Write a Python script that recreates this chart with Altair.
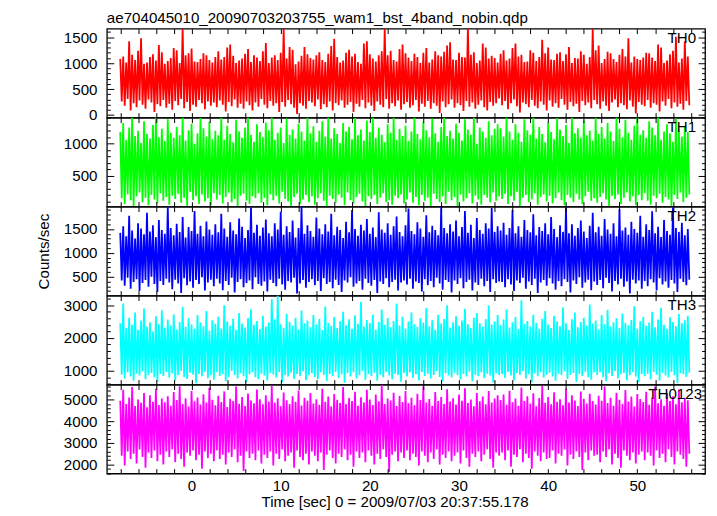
import altair as alt
import pandas as pd

TITLE = "ae704045010_20090703203755_wam1_bst_4band_nobin.qdp"
X_TITLE = "Time [sec] 0 = 2009/07/03 20:37:55.178"
Y_TITLE = "Counts/sec"

bands = ["TH0", "TH1", "TH2", "TH3", "TH0123"]
colors = ["#ff0000", "#00ff00", "#0000ff", "#00ffff", "#ff00ff"]
y_domains = [[-50, 1665], [20, 1405], [105, 1970], [575, 3295], [1580, 5695]]
y_major = [500, 500, 500, 1000, 1000]
y_minor = [100, 100, 100, 200, 200]
x_domain = [-9.5, 57.6]
x_label_values = [0, 10, 20, 30, 40, 50]

# time bins (s): each bin holds the peak and the trough of the light curve
T_START = -8.0
T_BIN = 1 / 3

th0_hi = [1080, 1130, 1010, 1420, 1160, 1060, 1240, 1480, 990, 1010, 1120, 1170, 1050, 1350, 1210, 990,
          1040, 1100, 1290, 1250, 1000, 1680, 1150, 1190, 1280, 1030, 1020, 1080, 1190, 1150, 1060, 1010,
          1120, 1230, 1070, 1120, 1300, 1360, 1140, 1000, 1050, 1090, 1180, 1270, 1020, 1150, 1110, 1040,
          1230, 1390, 1000, 1110, 1150, 1060, 1200, 1660, 1090, 1310, 1260, 980, 1030, 1140, 1310, 1170,
          1100, 1070, 1150, 1210, 1060, 1020, 1180, 1330, 1470, 1120, 1010, 1050, 1200, 1260, 1130, 1180,
          1020, 990, 1380, 1420, 1170, 1090, 1030, 1150, 1230, 1670, 1150, 1240, 1060, 1030, 1270, 1360,
          1190, 1110, 1040, 1180, 1120, 1000, 1200, 1290, 1010, 1070, 1230, 1150, 1130, 1220, 1340, 1400,
          1070, 1060, 1200, 1120, 1110, 1690, 1160, 1210, 1000, 1050, 1380, 1300, 1090, 1140, 1100, 1010,
          1180, 1250, 1050, 1090, 1290, 1380, 1130, 1160, 1020, 1030, 1250, 1200, 1040, 1120, 1450, 1190,
          1300, 1070, 1060, 1180, 1210, 1040, 1170, 1310, 1000, 1100, 1090, 1230, 1160, 990, 1120, 1660,
          1250, 1340, 1000, 1080, 1220, 1190, 1080, 1020, 1160, 1270, 1130, 1480, 1010, 1130, 1080, 1060,
          1110, 1200, 1190, 1110, 1040, 1360, 1300, 1000, 1050, 1170, 1240, 1510, 1010, 1090, 1420, 1130]
th0_lo = [260, 180, 310, 90, 230, 150, 280, 200, 120, 300, 240, 60, 210, 170, 290, 140,
          220, 100, 270, 190, 310, 130, 250, 80, 200, 160, 290, 230, 110, 260, 180, 240,
          150, 280, 200, 70, 250, 170, 300, 140, 220, 120, 260, 190, 90, 240, 160, 310,
          200, 130, 270, 180, 230, 60, 250, 160, 290, 210, 140, 20, 230, 180, 120, 270,
          240, 170, 300, 110, 210, 150, 260, 90, 230, 190, 280, 140, 200, 250, 60, 220,
          160, 290, 130, 240, 180, 80, 260, 200, 150, 310, 120, 230, 170, 280, 100, 210,
          250, 140, 190, 290, 70, 220, 160, 270, 120, 230, 180, 40, 260, 150, 210, 300,
          140, 230, 190, 80, 270, 160, 240, 120, 200, 280, 150, 90, 250, 180, 230, 320,
          190, 270, 110, 230, 300, 170, 50, 240, 210, 150, 290, 180, 130, 260, 200, 90,
          280, 160, 230, 140, 310, 200, 100, 250, 170, 220, 60, 270, 190, 240, 130, 290,
          210, 120, 260, 180, 80, 240, 300, 150, 230, 190, 110, 280, 160, 30, 250, 200,
          170, 290, 140, 230, 200, 70, 260, 180, 310, 130, 240, 160, 220, 100, 270, 190]

th1_hi = [1180, 1320, 1060, 1250, 1410, 1120, 1200, 1010, 1350, 1150, 1080, 1290, 1420, 1100, 1230, 1040,
          1380, 1170, 1090, 1260, 1130, 1420, 1050, 1210, 1310, 1000, 1160, 1400, 1240, 1110, 1340, 1070,
          1200, 1130, 1420, 1060, 1280, 1150, 1020, 1370, 1190, 1090, 1250, 1410, 1140, 1030, 1300, 1180,
          1100, 1330, 1210, 1420, 1060, 1170, 1250, 1010, 1390, 1140, 1220, 1080, 1310, 1190, 1050, 1420,
          1160, 1270, 1030, 1200, 1350, 1110, 1420, 1080, 1240, 1150, 1010, 1320, 1190, 1260, 1070, 1400,
          1130, 1220, 1050, 1360, 1180, 1420, 1090, 1250, 1140, 1020, 1300, 1170, 1410, 1060, 1230, 1120,
          1280, 1040, 1190, 1420, 1150, 1070, 1340, 1210, 1100, 1390, 1160, 1030, 1260, 1420, 1120, 1200,
          1080, 1310, 1170, 1050, 1380, 1220, 1140, 1420, 1000, 1250, 1190, 1090, 1350, 1130, 1230, 1300,
          1240, 1110, 1420, 1190, 1060, 1300, 1170, 1030, 1380, 1210, 1140, 1420, 1080, 1260, 1150, 1020,
          1330, 1180, 1070, 1400, 1220, 1120, 1290, 1010, 1420, 1160, 1240, 1090, 1360, 1130, 1200, 1050,
          1410, 1150, 1260, 1080, 1320, 1190, 1040, 1420, 1230, 1100, 1370, 1170, 1060, 1280, 1420, 1140,
          1210, 1090, 1350, 1250, 1130, 1420, 1060, 1190, 1300, 1160, 1030, 1390, 1220, 1110, 1270, 1180]
th1_lo = [150, 60, 210, 120, 30, 180, 240, 90, 160, 40, 200, 130, 70, 230, 110, 170,
          50, 190, 140, 220, 80, 160, 30, 250, 120, 180, 60, 210, 100, 150, 40, 230,
          130, 200, 70, 170, 240, 90, 140, 30, 190, 220, 110, 60, 180, 150, 230, 80,
          160, 40, 210, 120, 190, 70, 250, 140, 100, 30, 170, 220, 60, 130, 200, 90,
          180, 50, 150, 230, 110, 20, 190, 140, 80, 210, 160, 40, 240, 120, 70, 170,
          220, 100, 30, 180, 140, 200, 60, 160, 230, 90, 120, 50, 190, 150, 210, 70,
          130, 240, 80, 170, 40, 200, 110, 160, 30, 220, 140, 90, 180, 60, 250, 120,
          170, 30, 210, 100, 150, 230, 70, 190, 130, 50, 200, 160, 90, 240, 110, 180,
          140, 220, 60, 180, 110, 250, 30, 160, 200, 90, 130, 230, 50, 170, 210, 100,
          190, 70, 150, 240, 120, 40, 200, 160, 90, 220, 130, 60, 180, 250, 110, 150,
          80, 170, 230, 130, 30, 190, 140, 210, 60, 160, 240, 100, 180, 40, 200, 120,
          230, 110, 50, 190, 150, 220, 80, 170, 130, 30, 200, 140, 240, 90, 160, 210]

th2_hi = [1420, 1560, 1350, 1780, 1470, 1300, 1620, 1510, 1390, 1840, 1450, 1580, 1330, 1690, 1480, 1400,
          1960, 1520, 1370, 1610, 1440, 1750, 1320, 1540, 1460, 1880, 1400, 1570, 1350, 1660, 1490, 1380,
          1600, 1430, 1820, 1510, 1340, 1640, 1470, 1390, 1720, 1550, 1310, 1480, 1950, 1420, 1590, 1360,
          1530, 1700, 1410, 1350, 1620, 1490, 1860, 1380, 1560, 1440, 1680, 1320, 1520, 1970, 1400, 1580,
          1460, 1340, 1740, 1510, 1390, 1600, 1450, 1820, 1370, 1550, 1480, 1310, 1650, 1430, 1900, 1500,
          1360, 1590, 1470, 1710, 1400, 1530, 1330, 1850, 1490, 1420, 1620, 1380, 1560, 1760, 1440, 1350,
          1580, 1930, 1460, 1390, 1640, 1510, 1340, 1790, 1430, 1570, 1480, 1370, 1960, 1520, 1410, 1600,
          1450, 1680, 1350, 1540, 1880, 1420, 1590, 1310, 1730, 1480, 1400, 1620, 1510, 1940, 1440, 1560,
          1470, 1630, 1380, 1520, 1900, 1410, 1560, 1340, 1690, 1480, 1430, 1810, 1370, 1540, 1460, 1620,
          1390, 1750, 1500, 1330, 1580, 1440, 1960, 1410, 1600, 1360, 1520, 1680, 1450, 1310, 1570, 1840,
          1430, 1550, 1360, 1710, 1490, 1400, 1620, 1350, 1920, 1470, 1530, 1380, 1650, 1500, 1420, 1780,
          1340, 1600, 1480, 1870, 1410, 1550, 1330, 1690, 1460, 1380, 1950, 1520, 1440, 1630, 1370, 1500]
th2_lo = [420, 310, 480, 250, 390, 450, 200, 370, 430, 290, 500, 350, 180, 410, 330, 460,
          380, 240, 440, 360, 160, 470, 320, 400, 270, 430, 350, 490, 210, 380, 440, 300,
          460, 360, 220, 410, 330, 480, 170, 390, 450, 280, 370, 420, 240, 490, 350, 310,
          400, 190, 440, 370, 300, 460, 340, 230, 410, 380, 480, 150, 360, 430, 270, 390,
          450, 320, 410, 200, 470, 350, 390, 260, 440, 330, 180, 420, 380, 490, 290, 360,
          410, 230, 460, 370, 310, 430, 160, 400, 350, 470, 280, 390, 440, 210, 380, 420,
          340, 460, 250, 400, 370, 190, 450, 320, 410, 280, 480, 360, 230, 430, 390, 170,
          420, 350, 470, 260, 390, 440, 210, 380, 330, 460, 300, 410, 180, 450, 370, 400,
          390, 280, 450, 340, 200, 420, 370, 480, 250, 400, 330, 460, 160, 380, 430, 310,
          470, 360, 230, 410, 300, 450, 390, 170, 420, 350, 490, 270, 380, 440, 220, 400,
          330, 430, 260, 480, 370, 190, 410, 340, 460, 290, 400, 150, 440, 360, 420, 250,
          410, 300, 450, 380, 210, 470, 340, 400, 270, 430, 360, 180, 460, 390, 320, 440]

th3_hi = [2450, 3050, 2300, 2620, 2400, 2780, 2250, 2530, 2900, 2350, 2480, 2200, 2660, 2420, 2850, 2310,
          2560, 2380, 2720, 2260, 2490, 2950, 2340, 2600, 2410, 2280, 2700, 2470, 2360, 2820, 2230, 2540,
          2430, 2650, 2290, 3000, 2500, 2370, 2590, 2250, 2760, 2440, 2320, 2610, 2880, 2400, 2520, 2270,
          2680, 2350, 2470, 3180, 2560, 3300, 2420, 2310, 2740, 2490, 2380, 2620, 2260, 2840, 2450, 2530,
          2330, 2700, 2410, 2580, 2240, 2960, 2460, 2370, 2640, 2300, 2510, 2800, 2390, 2570, 2280, 2690,
          2430, 3100, 2350, 2550, 2460, 2720, 2260, 2490, 2870, 2400, 2610, 2330, 2520, 3050, 2380, 2650,
          2290, 2500, 2780, 2420, 2340, 2600, 2470, 2920, 2360, 2540, 2250, 2710, 2440, 2580, 3000, 2310,
          2480, 2660, 2370, 2530, 2890, 2420, 2300, 2620, 2760, 2450, 2350, 2580, 2990, 2410, 2500, 2700,
          2390, 2560, 2870, 2320, 2480, 2640, 2270, 3150, 2430, 2520, 2350, 2710, 2460, 2280, 2590, 2820,
          2410, 2300, 2680, 2500, 2360, 2940, 2450, 2240, 2570, 2780, 2330, 2490, 2620, 2380, 3020, 2440,
          2530, 2260, 2700, 2420, 2860, 2350, 2480, 2600, 2310, 2750, 2460, 2390, 2550, 2970, 2290, 2510,
          2640, 2370, 2470, 2800, 2330, 2560, 2920, 2400, 2280, 2630, 2490, 2360, 2730, 2450, 2540, 2680]
th3_lo = [880, 760, 950, 820, 690, 910, 850, 980, 740, 870, 930, 800, 660, 900, 840, 960,
          790, 920, 700, 860, 990, 810, 750, 940, 880, 620, 900, 830, 970, 770, 860, 720,
          950, 840, 900, 680, 810, 990, 870, 760, 920, 830, 650, 890, 960, 800, 740, 910,
          850, 700, 930, 880, 790, 960, 640, 870, 820, 940, 750, 900, 830, 980, 710, 860,
          920, 810, 740, 950, 870, 680, 900, 840, 970, 780, 890, 630, 930, 820, 950, 760,
          860, 990, 720, 900, 830, 940, 690, 880, 800, 960, 850, 740, 910, 870, 660, 930,
          820, 950, 780, 890, 700, 960, 840, 910, 760, 870, 990, 810, 670, 920, 850, 790,
          940, 860, 730, 900, 820, 970, 680, 880, 830, 950, 770, 910, 850, 640, 920, 870,
          900, 780, 960, 850, 700, 930, 870, 990, 760, 890, 640, 920, 830, 950, 790, 880,
          940, 820, 690, 910, 860, 980, 750, 870, 930, 660, 900, 840, 970, 800, 720, 950,
          870, 950, 800, 680, 920, 840, 990, 770, 890, 930, 710, 860, 960, 820, 650, 900,
          830, 910, 740, 960, 880, 700, 940, 850, 790, 970, 860, 620, 920, 890, 810, 940]

th0123_hi = [4950, 5450, 4800, 5100, 5580, 4700, 5000, 4850, 5300, 4650, 5200, 4900, 5500, 4750, 5050, 4880,
             5150, 4720, 5350, 4980, 5620, 4800, 5060, 4680, 5400, 4920, 5100, 4770, 5250, 4860, 5550, 4990,
             4740, 5180, 4890, 5380, 4660, 5040, 4940, 5600, 4810, 5120, 4700, 5280, 4960, 4830, 5470, 5020,
             4780, 5200, 4910, 5650, 4850, 5060, 4690, 5330, 4970, 4800, 5150, 4900, 5420, 4730, 5080, 4950,
             5300, 4820, 5020, 4760, 5500, 4900, 5140, 4680, 5260, 4990, 4840, 5580, 4790, 5070, 4930, 5360,
             4710, 5110, 4870, 5450, 5000, 4750, 5230, 4920, 5680, 4800, 5050, 4960, 5320, 4700, 5170, 4890,
             5400, 4830, 5090, 4740, 5270, 4980, 5600, 4860, 5030, 4720, 5350, 4940, 5120, 4800, 5480, 4910,
             5060, 4770, 5230, 4950, 5520, 4840, 5000, 4690, 5310, 4920, 5140, 4780, 5400, 4870, 5050, 5200,
             4980, 5230, 4760, 5410, 4880, 5050, 4720, 5560, 4930, 5160, 4810, 5290, 4690, 5070, 5640, 4850,
             5120, 4790, 5340, 4900, 5010, 4740, 5500, 4870, 5200, 4960, 4700, 5380, 5040, 4820, 5270, 4930,
             4770, 5180, 4950, 5610, 4840, 5090, 4720, 5320, 4990, 4800, 5440, 4910, 5140, 4680, 5260, 5030,
             4890, 5360, 4760, 5100, 5590, 4830, 5020, 4710, 5300, 4940, 5160, 4790, 5470, 4880, 5080, 4970]
th0123_lo = [2400, 1950, 2600, 2250, 2500, 2050, 2700, 2350, 1850, 2550, 2300, 2650, 2150, 2450, 2000, 2600,
             2350, 2700, 2100, 2500, 2250, 1900, 2550, 2400, 2650, 2200, 2450, 1800, 2600, 2300, 2500, 2150,
             2650, 2250, 2450, 2000, 2550, 2350, 2700, 2100, 2400, 1700, 2600, 2300, 2500, 2200, 2650, 2050,
             2450, 2300, 2600, 1950, 2500, 2250, 2700, 2150, 2400, 2550, 1850, 2650, 2350, 2200, 2500, 2000,
             2600, 2400, 2150, 2550, 1750, 2450, 2650, 2300, 2050, 2500, 2350, 2700, 2200, 2450, 1900, 2600,
             2300, 2550, 2100, 2650, 2400, 2000, 2500, 2250, 2700, 2350, 1650, 2450, 2600, 2150, 2550, 2300,
             2650, 2200, 2500, 2350, 1950, 2600, 2400, 2100, 2550, 2250, 2700, 2000, 2450, 2300, 2600, 2150,
             2400, 2550, 2050, 2650, 2300, 1900, 2500, 2350, 2600, 2150, 2450, 2700, 2250, 1850, 2550, 2400,
             2550, 2200, 2650, 1900, 2450, 2350, 2700, 2100, 2500, 2300, 1800, 2600, 2400, 2150, 2550, 2250,
             2300, 2650, 2050, 2500, 2400, 2700, 1950, 2450, 2250, 2600, 2350, 1750, 2550, 2200, 2650, 2400,
             2450, 2100, 2600, 2350, 2700, 2000, 2500, 2300, 1850, 2650, 2400, 2200, 2550, 2050, 2450, 2600,
             2200, 2550, 2400, 1950, 2650, 2300, 2500, 2100, 2700, 2350, 2000, 2600, 2450, 2250, 1900, 2500]

series_hi = [th0_hi, th1_hi, th2_hi, th3_hi, th0123_hi]
series_lo = [th0_lo, th1_lo, th2_lo, th3_lo, th0123_lo]

# ---- layout / style ----
W, H = 605, 90
FONT = "Liberation Sans"
FS = 15.3
label_right = [596, 596, 596, 596, 602]
LABEL_Y = 15


def make_panel(k):
    hi, lo = series_hi[k], series_lo[k]
    n = min(len(hi), len(lo))
    rows = []
    for i in range(n):
        t = T_START + i * T_BIN
        rows.append({"t": t, "v": hi[i]})
        rows.append({"t": t + T_BIN / 2, "v": lo[i]})
    df = pd.DataFrame(rows)
    anchor = df.iloc[:1]

    d0, d1 = y_domains[k]
    mj, mn = y_major[k], y_minor[k]
    xs = alt.Scale(domain=x_domain, nice=False, zero=False)
    ys = alt.Scale(domain=[d0, d1], nice=False, zero=False)
    y_ticks = [v for v in range(0, 6001, mn) if d0 <= v <= d1]
    y_labels = [v for v in y_ticks if v % mj == 0]
    x_ticks = list(range(-8, 57, 2))
    ytick_size = {"condition": {"test": f"datum.value % {mj} === 0", "value": 7}, "value": 3.5}
    tick_common = dict(labels=False, domain=False, grid=False, title=None,
                       tickColor="black", tickWidth=1, zindex=1)

    lab_common = dict(orient="left", values=y_labels, ticks=False, tickSize=0, domain=False,
                      grid=False, labelPadding=10, format="d")
    if k == 2:
        y_lab_axis = alt.Axis(title=Y_TITLE, titleAngle=270, titleX=-64, titleY=H / 2,
                              titleAlign="center", titleBaseline="middle", **lab_common)
    else:
        y_lab_axis = alt.Axis(title=None, **lab_common)

    line = alt.Chart(df).mark_line(color=colors[k], strokeWidth=1.8, clip=True).encode(
        x=alt.X("t:Q", scale=xs,
                axis=alt.Axis(orient="top", offset=-H, values=x_ticks, tickSize=5, **tick_common)),
        y=alt.Y("v:Q", scale=ys, axis=y_lab_axis),
    )
    ax2 = alt.Chart(anchor).mark_point(opacity=0).encode(
        x=alt.X("t:Q", scale=xs,
                axis=alt.Axis(orient="bottom", offset=-H, values=x_ticks, tickSize=5, **tick_common)),
        y=alt.Y("v:Q", scale=ys,
                axis=alt.Axis(orient="right", offset=-W, values=y_ticks, tickSize=ytick_size, **tick_common)),
    )
    if k == len(bands) - 1:
        x3 = alt.X("t:Q", scale=xs,
                   axis=alt.Axis(orient="bottom", values=x_label_values, ticks=False, tickSize=0,
                                 domain=False, grid=False, labelPadding=5, labelFlush=False, format="d",
                                 title=X_TITLE, titleX=291, titleY=21, titleAlign="center",
                                 titleBaseline="top"))
    else:
        x3 = alt.X("t:Q", scale=xs, axis=None)
    ax3 = alt.Chart(anchor).mark_point(opacity=0).encode(
        x=x3,
        y=alt.Y("v:Q", scale=ys,
                axis=alt.Axis(orient="left", offset=-W, values=y_ticks, tickSize=ytick_size, **tick_common)),
    )
    lab = alt.Chart(pd.DataFrame({"name": [bands[k]]})).mark_text(
        align="right", baseline="alphabetic", font=FONT, fontSize=FS, color="black"
    ).encode(x=alt.value(label_right[k]), y=alt.value(LABEL_Y), text="name:N")

    layer = alt.layer(line, ax2, ax3, lab).resolve_axis(x="independent", y="independent")
    if k == 0:
        return layer.properties(width=W, height=H, title=alt.TitleParams(
            TITLE, anchor="start", frame="group", font=FONT, fontSize=FS, fontWeight="normal",
            color="black", offset=1.5))
    return layer.properties(width=W, height=H)


panels = [make_panel(k) for k in range(len(bands))]

chart = alt.vconcat(*panels, spacing=0, bounds="flush").properties(
    padding={"left": 28, "top": 0, "right": 2, "bottom": 0},
).configure_view(stroke="black", strokeWidth=1.3).configure_axis(
    labelFont=FONT, labelFontSize=FS, titleFont=FONT, titleFontSize=FS, titleFontWeight="normal",
    labelColor="black", titleColor="black", grid=False
).configure_concat(spacing=0)

chart.save("out.html", embed_options={"renderer": "svg", "actions": False})
